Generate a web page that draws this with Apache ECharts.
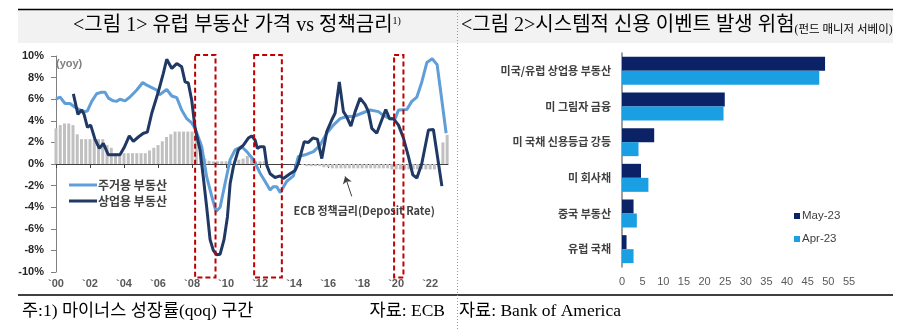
<!DOCTYPE html>
<html><head><meta charset="utf-8">
<script src="https://cdn.jsdelivr.net/npm/echarts@6/dist/echarts.min.js"></script>
<style>html,body{margin:0;padding:0;background:#fff}#c{width:924px;height:330px}</style>
</head><body><div id="c"></div>
<script>
// ---------- Chart 1 data ----------
const resName = '주거용 부동산';
const comName = '상업용 부동산';
const resDates = [2000.0, 2000.24, 2000.53, 2000.82, 2001.12, 2001.41, 2001.71, 2001.84, 2002.10, 2002.39, 2002.69, 2002.88, 2003.08, 2003.37, 2003.57, 2003.76, 2004.06, 2004.35, 2004.75, 2005.10, 2005.34, 2005.72, 2005.92, 2006.08, 2006.51, 2006.81, 2007.10, 2007.39, 2007.69, 2007.98, 2008.18, 2008.57, 2008.86, 2009.16, 2009.41, 2009.65, 2009.94, 2010.24, 2010.53, 2010.92, 2011.22, 2011.61, 2012.00, 2012.29, 2012.59, 2012.78, 2012.98, 2013.18, 2013.57, 2013.96, 2014.25, 2014.65, 2015.14, 2015.53, 2015.92, 2016.31, 2016.71, 2017.10, 2017.49, 2017.98, 2018.47, 2018.96, 2019.25, 2019.65, 2019.94, 2020.14, 2020.63, 2020.92, 2021.22, 2021.51, 2021.81, 2022.12, 2022.41, 2022.63, 2022.94];
const resValues = [6.0, 6.2, 5.6, 5.6, 5.25, 5.0, 4.85, 4.9, 5.8, 6.5, 6.65, 6.65, 6.1, 5.85, 5.8, 6.0, 5.85, 6.2, 6.85, 7.55, 7.3, 7.0, 6.85, 6.4, 6.9, 6.3, 6.15, 5.0, 4.2, 3.8, 3.3, 1.6, -1.2, -3.0, -4.4, -4.0, -1.8, 0.4, 1.3, 1.6, 1.15, 0.4, -0.85, -1.6, -2.4, -2.1, -2.1, -2.65, -1.6, -1.1, 0.7, 0.85, 1.15, 1.75, 2.85, 3.6, 4.2, 4.4, 4.4, 4.7, 5.0, 4.85, 4.5, 4.2, 4.2, 5.0, 5.05, 5.8, 6.2, 7.6, 9.4, 9.75, 9.2, 6.6, 2.85];
const comDates = [2001.02, 2001.29, 2001.51, 2001.65, 2001.85, 2002.04, 2002.29, 2002.55, 2002.78, 2003.08, 2003.76, 2004.00, 2004.31, 2004.55, 2004.84, 2005.14, 2005.37, 2005.63, 2006.02, 2006.31, 2006.51, 2006.81, 2007.10, 2007.39, 2007.59, 2007.78, 2007.98, 2008.18, 2008.47, 2008.66, 2008.86, 2009.06, 2009.25, 2009.45, 2009.65, 2009.88, 2010.08, 2010.24, 2010.43, 2010.72, 2011.02, 2011.31, 2011.51, 2011.71, 2011.84, 2012.00, 2012.24, 2012.39, 2012.59, 2012.88, 2013.18, 2013.37, 2013.76, 2014.06, 2014.25, 2014.59, 2014.84, 2015.10, 2015.37, 2015.63, 2015.92, 2016.22, 2016.41, 2016.66, 2016.90, 2017.10, 2017.34, 2017.59, 2017.88, 2018.18, 2018.37, 2018.57, 2018.86, 2019.16, 2019.39, 2019.61, 2019.84, 2020.14, 2020.43, 2020.72, 2020.98, 2021.22, 2021.51, 2021.90, 2022.19, 2022.43, 2022.69];
const comValues = [6.5, 4.6, 5.0, 4.6, 3.4, 3.6, 2.3, 1.45, 1.9, 0.85, 0.85, 1.5, 2.6, 2.1, 2.5, 2.85, 2.95, 4.7, 6.7, 8.4, 9.7, 8.85, 9.3, 9.0, 7.6, 7.5, 5.9, 3.3, 1.3, -1.2, -4.0, -7.0, -8.0, -8.4, -8.35, -7.0, -4.9, -1.8, -0.25, 1.3, 1.75, 2.4, 2.6, 2.2, 1.45, 1.6, 1.6, -0.1, -0.9, -1.25, -1.1, -1.35, -0.9, -0.6, 0.05, 2.05, 2.0, 2.4, 2.3, 0.5, 3.0, 4.1, 4.7, 7.6, 4.85, 4.35, 3.5, 4.85, 6.1, 5.5, 4.85, 3.3, 2.85, 4.1, 5.05, 4.2, 4.2, 3.6, 2.4, 0.7, -1.0, -1.3, 0.05, 3.15, 3.2, 0.7, -2.05];
// ECB deposit rate, quarterly from 2000 Q1
const rateStart = 2000;
const rateStep = 0.25;
const rateValues = [
  3.3, 3.6, 3.75, 3.75,
  3.6, 2.75, 2.3, 2.3,
  2.3, 2.3, 2.3, 2.3,
  1.75, 1.5, 1.0, 1.0,
  1.0, 1.0, 1.0, 1.0,
  1.0, 1.0, 1.25, 1.5,
  1.75, 2.1, 2.5, 2.75,
  3.0, 3.0, 3.0, 3.0,
  3.0, 3.0, 2.1, 0.5,
  0.3, 0.25, 0.25, 0.25,
  0.25, 0.25, 0.25, 0.4,
  0.5, 0.75, 0.75, 0.25,
  0.25, 0.25, 0.0, 0.0,
  0.0, 0.0, 0.0, 0.0,
  0.0, 0.0, -0.1, -0.2,
  -0.2, -0.2, -0.2, -0.3,
  -0.3, -0.4, -0.4, -0.4,
  -0.4, -0.4, -0.4, -0.4,
  -0.4, -0.4, -0.4, -0.4,
  -0.4, -0.4, -0.4, -0.5,
  -0.5, -0.5, -0.5, -0.5,
  -0.5, -0.5, -0.5, -0.5,
  -0.5, -0.5, 0.0, 2.0,
  2.7
];
// negative growth (qoq) periods
const boxStarts = [2008.18, 2011.65, 2019.88];
const boxEnds = [2009.38, 2013.28, 2020.43];
const annotationText = 'ECB 정책금리(Deposit Rate)';

// ---------- Chart 2 data ----------
const riskCats = ['미국/유럽 상업용 부동산', '미 그림자 금융', '미 국채 신용등급 강등', '미 회사채', '중국 부동산', '유럽 국채'];
const mayName = 'May-23';
const aprName = 'Apr-23';
const mayValues = [49.2, 24.9, 7.8, 4.6, 2.8, 1.1];
const aprValues = [47.8, 24.6, 4.0, 6.4, 3.6, 2.8];

// ---------- texts ----------
const title1 = '<그림 1> 유럽 부동산 가격 vs 정책금리{s|1)}';
const title2 = '<그림 2>시스템적 신용 이벤트 발생 위험{m|(펀드 매니저 서베이)}';
const note1 = '주:1) 마이너스 성장률(qoq) 구간';
const src1 = '자료: ECB';
const src2 = '자료: Bank of America';

const serif = "'Liberation Serif','Noto Sans CJK KR',serif";
const kr = "'Noto Sans CJK KR',sans-serif";
const lat = "'Liberation Sans',Arial,sans-serif";

const resData = resDates.map((d, i) => [d, resValues[i]]);
const comData = comDates.map((d, i) => [d, comValues[i]]);
const rateData = rateValues.map((v, i) => [rateStart + i * rateStep, v]);
const boxData = boxStarts.map((s, i) => [s, boxEnds[i], 0]);

const chart = echarts.init(document.getElementById('c'), null, {renderer: 'canvas'});
const option = {
  animation: false,
  graphic: [
    {type: 'rect', shape: {x: 18, y: 10, width: 875, height: 33}, style: {fill: '#f2f2f2'}, z: 0},
    {type: 'line', shape: {x1: 18, y1: 9.5, x2: 893, y2: 9.5}, style: {stroke: '#000', lineWidth: 1.5}},
    {type: 'line', shape: {x1: 18, y1: 295, x2: 893, y2: 295}, style: {stroke: '#000', lineWidth: 1.5}},
    {type: 'line', shape: {x1: 457.5, y1: 10, x2: 457.5, y2: 330}, style: {stroke: '#999', lineWidth: 1, lineDash: [1, 2]}},
    {type: 'text', x: 237, y: 26, style: {text: title1, fill: '#000', font: '20px ' + serif, textAlign: 'center', textVerticalAlign: 'middle',
      rich: {s: {fontSize: 10, fontFamily: serif, verticalAlign: 'top', fill: '#000'}}}},
    {type: 'text', x: 461, y: 26, style: {text: title2, fill: '#000', font: '20px ' + serif, textAlign: 'left', textVerticalAlign: 'middle',
      rich: {m: {fontSize: 11.5, fontFamily: serif, verticalAlign: 'bottom', fill: '#000'}}}},
    {type: 'text', x: 22, y: 311, style: {text: note1, fill: '#000', font: '17.5px ' + serif, textAlign: 'left', textVerticalAlign: 'middle'}},
    {type: 'text', x: 445, y: 311, style: {text: src1, fill: '#000', font: '17.5px ' + serif, textAlign: 'right', textVerticalAlign: 'middle'}},
    {type: 'text', x: 459, y: 311, style: {text: src2, fill: '#000', font: '17.5px ' + serif, textAlign: 'left', textVerticalAlign: 'middle'}}
  ],
  grid: [
    {left: 56, top: 56, width: 392, height: 216, outerBoundsMode: 'none', containLabel: false},
    {left: 622, top: 53, width: 227, height: 214, outerBoundsMode: 'none', containLabel: false}
  ],
  legend: [
    {data: [resName, comName], orient: 'vertical', left: 64, top: 174, icon: 'rect', itemWidth: 28, itemHeight: 3, itemGap: 4,
      textStyle: {fontSize: 12, color: '#404040', fontWeight: 'bold', fontFamily: kr, padding: [0, 0, 0, -4]}},
    {data: [mayName, aprName], orient: 'vertical', left: 789, top: 205, icon: 'rect', itemWidth: 6, itemHeight: 6, itemGap: 11,
      textStyle: {fontSize: 11.5, color: '#404040', fontFamily: lat, padding: [0, 0, 0, -3]}}
  ],
  xAxis: [
    {gridIndex: 0, type: 'value', min: 2000, max: 2023.05, interval: 2,
      axisLine: {onZero: true, lineStyle: {color: '#404040', width: 1}},
      axisTick: {show: true, length: 4, lineStyle: {color: '#404040'}},
      axisLabel: {margin: 6, fontSize: 11, fontWeight: 'bold', color: '#595959', fontFamily: lat, showMaxLabel: false,
        formatter: v => (Math.round(v) === v && v % 2 === 0) ? '`' + String(v % 100).padStart(2, '0') : ''},
      splitLine: {show: false}},
    {gridIndex: 1, type: 'value', min: 0, max: 55, interval: 5,
      axisLine: {show: false}, axisTick: {show: false}, splitLine: {show: false},
      axisLabel: {margin: 9, fontSize: 11, color: '#595959', fontFamily: lat}}
  ],
  yAxis: [
    {gridIndex: 0, type: 'value', min: -10, max: 10, interval: 2,
      name: '(yoy)', nameLocation: 'end', nameGap: -8,
      nameTextStyle: {align: 'left', verticalAlign: 'middle', color: '#808080', fontSize: 11, fontWeight: 'bold', fontFamily: lat},
      axisLine: {show: true, lineStyle: {color: '#7f7f7f', width: 1}},
      axisTick: {show: true, length: 5, lineStyle: {color: '#7f7f7f'}},
      axisLabel: {formatter: '{value}%', margin: 12, fontSize: 11, fontWeight: 'bold', color: '#262626', fontFamily: lat},
      splitLine: {show: false}},
    {gridIndex: 1, type: 'category', data: riskCats, inverse: true,
      axisLine: {show: true, lineStyle: {color: '#7f7f7f', width: 1.5}},
      axisTick: {show: false}, splitLine: {show: false},
      axisLabel: {margin: 11, fontSize: 11, fontWeight: 'bold', color: '#404040', fontFamily: kr}}
  ],
  series: [
    {type: 'bar', name: 'ECB', xAxisIndex: 0, yAxisIndex: 0, data: rateData, barWidth: 3,
      itemStyle: {color: '#c0c0c0'}, silent: true, z: 1,
      markLine: {silent: true, symbol: ['none', 'arrow'], symbolSize: 7, animation: false,
        lineStyle: {color: '#404040', width: 1, type: 'solid'}, label: {show: false},
        data: [[{coord: [2017.39, -3.0]}, {coord: [2017.0, -1.15]}]]},
      markPoint: {silent: true, symbol: 'circle', symbolSize: 1, itemStyle: {color: 'rgba(0,0,0,0)'},
        label: {show: true, position: 'inside', formatter: annotationText, fontSize: 11, fontWeight: 'bold', color: '#404040', fontFamily: kr},
        data: [{coord: [2018.12, -4.3]}]}},
    {type: 'line', name: resName, xAxisIndex: 0, yAxisIndex: 0, data: resData, showSymbol: false, symbol: 'none',
      lineStyle: {color: '#5f9ed8', width: 3}, itemStyle: {color: '#5f9ed8'}, z: 3},
    {type: 'line', name: comName, xAxisIndex: 0, yAxisIndex: 0, data: comData, showSymbol: false, symbol: 'none',
      lineStyle: {color: '#1f3864', width: 3}, itemStyle: {color: '#1f3864'}, z: 4},
    {type: 'custom', name: 'boxes', xAxisIndex: 0, yAxisIndex: 0, data: boxData, encode: {x: [0, 1], y: 2}, silent: true, z: 6, clip: false,
      renderItem: (params, api) => {
        const p0 = api.coord([api.value(0), 10.1]);
        const p1 = api.coord([api.value(1), -10.5]);
        return {type: 'rect', shape: {x: p0[0], y: p0[1], width: p1[0] - p0[0], height: p1[1] - p0[1]},
          style: {fill: 'none', stroke: '#c00000', lineWidth: 2, lineDash: [5, 3]}};
      }},
    {type: 'bar', name: mayName, xAxisIndex: 1, yAxisIndex: 1, data: mayValues, barWidth: 14, barGap: '0%',
      itemStyle: {color: '#0b2366'}},
    {type: 'bar', name: aprName, xAxisIndex: 1, yAxisIndex: 1, data: aprValues, barWidth: 14, barGap: '0%',
      itemStyle: {color: '#1b9fe3'}}
  ]
};
chart.setOption(option);
</script></body></html>
